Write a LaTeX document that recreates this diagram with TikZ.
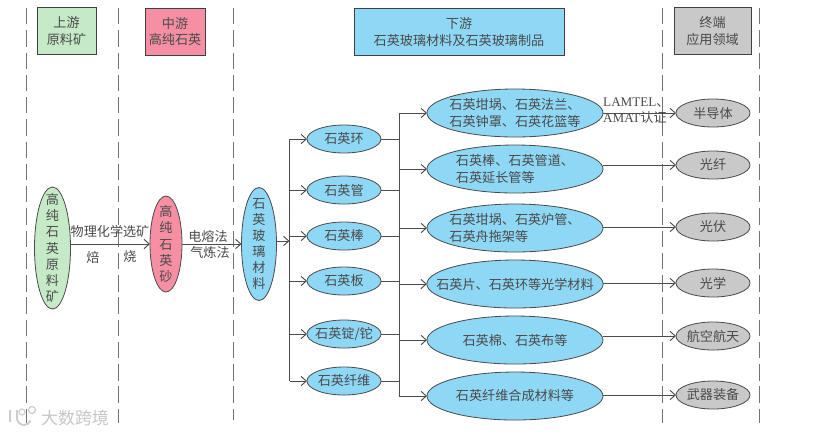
\documentclass[tikz,border=0pt]{standalone}
\usepackage{fontspec}
\setmainfont{Noto Sans CJK SC}
\newfontfamily\latinfont{Liberation Serif}
\usepackage{xcolor}
\usepackage{tikz}
\usetikzlibrary{shapes,arrows.meta,positioning,calc}
\definecolor{upgreen}{HTML}{C6EAC8}
\definecolor{midpink}{HTML}{F78FA4}
\definecolor{downblue}{HTML}{8ED8F6}
\definecolor{endgray}{HTML}{C9C9C9}
\definecolor{inkgray}{HTML}{4A4A4A}

\begin{document}
\begin{tikzpicture}[
    x=0.03cm, y=-0.03cm,
    >={Straight Barb[length=4.5pt,width=8pt]},
    every node/.style={font=\fontsize{11.2}{13.8}\selectfont, text=inkgray},
    head/.style={rectangle, draw=black!75, line width=0.8pt, align=center,
                 minimum height=1.41cm, inner sep=0pt},
    blob/.style={ellipse, draw=black!70, line width=0.7pt, align=center,
                 inner xsep=-14pt, inner ysep=-12pt, outer sep=0pt},
    ring/.style={blob, fill=downblue, minimum width=2.22cm, minimum height=0.84cm},
    ware/.style={blob, fill=downblue, minimum width=5.28cm, minimum height=1.44cm},
    usage/.style={blob, fill=endgray, minimum width=2.22cm, minimum height=0.84cm},
    tall/.style={blob, minimum width=1.08cm},
    fence/.style={dash pattern=on 14pt off 5pt, line width=0.8pt, gray!90!black},
    arrow/.style={->, line width=0.8pt, black!70},
    wire/.style={line width=0.8pt, black!70},
    note/.style={inner sep=0pt, align=left},
  ]
    \useasboundingbox (0,0) rectangle (831,434);

    % column fences
    \draw[fence] (26,8)  -- (26,423);
    \draw[fence] (118,8) -- (118,423);
    \draw[fence] (233,8) -- (233,420);
    \draw[fence] (662,8) -- (662,423);
    \draw[fence] (759,8) -- (759,423);

    \node[head, fill=upgreen, minimum width=1.77cm] (hup)   at (66.5,31)  {上游\\原料矿};
    \node[head, fill=midpink, minimum width=1.8cm]  (hmid)  at (175,31.5) {中游\\高纯石英};
    \node[head, fill=downblue, minimum width=6.3cm] (hdown) at (459,32)   {下游\\石英玻璃材料及石英玻璃制品};
    \node[head, fill=endgray, minimum width=2.31cm] (hend)  at (712.5,31) {终端\\应用领域};

    \node[tall, fill=upgreen, minimum height=3.66cm] (ore)   at (52.5,248) {高\\纯\\石\\英\\原\\料\\矿};
    \node[tall, fill=midpink, minimum width=0.96cm, minimum height=2.88cm] (sand)  at (166,244) {高\\纯\\石\\英\\砂};
    \node[tall, fill=downblue, minimum width=1.05cm, minimum height=3.39cm] (glass) at (259,244) {石\\英\\玻\\璃\\材\\料};

    \node[ring] (hoop) at (344,139) {石英环};
    \node[ring, below=0.69cm of hoop]  (tube)  {石英管};
    \node[ring, below=0.54cm of tube]  (rod)   {石英棒};
    \node[ring, below=0.51cm of rod]   (plate) {石英板};
    \node[ring, below=0.75cm of plate] (ingot) {石英锭/铊};
    \node[ring, below=0.57cm of ingot] (fibre) {石英纤维};

    \node[ware] (crucible) at (515,113) {石英坩埚、石英法兰、\\石英钟罩、石英花篮等};
    \node[ware, below=0.24cm of crucible, align=left] (rodware) {石英棒、石英管道、\\石英延长管等};
    \node[ware, below=0.33cm of rodware, align=left]  (pvware)  {石英坩埚、石英炉管、\\石英舟拖架等};
    \node[ware, below=0.24cm of pvware]  (optic) {石英片、石英环等光学材料};
    \node[ware, below=0.24cm of optic]   (wool)  {石英棉、石英布等};
    \node[ware, below=0.24cm of wool]    (composite) {石英纤维合成材料等};

    \node[usage] (semi) at (713,113) {半导体};
    \node[usage, below=0.72cm of semi]   (ofibre) {光纤};
    \node[usage, below=1.02cm of ofibre] (pv)     {光伏};
    \node[usage, below=0.84cm of pv]     (optics) {光学};
    \node[usage, below=0.75cm of optics] (aero)   {航空航天};
    \node[usage, below=0.93cm of aero]   (arms)   {武器装备};

    \node[note] (lchem) at (110,231) {物理化学选矿};
    \node[note] (lbeil) at (93,257)  {焙};
    \node[note] (lburn) at (130,257) {烧};
    \node[note] (lmelt) at (208,236) {电熔法};
    \node[note] (lgas)  at (210,253) {气炼法};
    \node[note, anchor=west] (lcert) at (603,111) {{\latinfont LAMTEL}、\\{\latinfont AMAT}认证};

    \coordinate (splitl) at (289.5,241);
    \coordinate (splitr) at (399,139);

    \draw[arrow] (ore.east |- sand) -- (sand);
    \draw[arrow] (sand) -- (glass);
    \draw[arrow] (glass.east |- splitl) -- (splitl);

    \draw[wire] (hoop -| splitl) -- (fibre -| splitl);
    \draw[arrow] (hoop -| splitl)  -- (hoop);
    \draw[arrow] (tube -| splitl)  -- (tube);
    \draw[arrow] (rod -| splitl)   -- (rod);
    \draw[arrow] (plate -| splitl) -- (plate);
    \draw[arrow] (ingot -| splitl) -- (ingot);
    \draw[arrow] (fibre -| splitl) -- (fibre);

    \draw[wire] (crucible -| splitr) -- (composite -| splitr);
    \draw[wire] (hoop)  -- (hoop -| splitr);
    \draw[wire] (tube)  -- (tube -| splitr);
    \draw[wire] (rod)   -- (rod -| splitr);
    \draw[wire] (plate) -- (plate -| splitr);
    \draw[wire] (ingot) -- (ingot -| splitr);
    \draw[wire] (fibre) -- (fibre -| splitr);

    \draw[arrow] (crucible -| splitr)  -- (crucible);
    \draw[arrow] (rodware -| splitr)   -- (rodware);
    \draw[arrow] (pvware -| splitr)    -- (pvware);
    \draw[arrow] (optic -| splitr)     -- (optic);
    \draw[arrow] (wool -| splitr)      -- (wool);
    \draw[arrow] (composite -| splitr) -- (composite);

    \draw[arrow] (crucible.east |- semi)    -- (semi);
    \draw[arrow] (rodware.east |- ofibre)   -- (ofibre);
    \draw[arrow] (pvware.east |- pv)        -- (pv);
    \draw[arrow] (optic.east |- optics)     -- (optics);
    \draw[arrow] (wool.east |- aero)        -- (aero);
    \draw[arrow] (composite.east |- arms)   -- (arms);

    % watermark
    \node[note, font=\fontsize{14.5}{16}\selectfont, text=gray!45] (mark) at (75,418) {大数跨境};
    \draw[gray!40, line width=1.6pt] (10,410) -- (10,422);
    \draw[gray!40, line width=1.6pt] (17,410) -- (17,418) arc[start angle=180, end angle=20, radius=7];
    \draw[gray!40, line width=1pt] (22,412) circle[radius=3];
    \draw[gray!40, line width=1pt] (32,410) circle[radius=3.5];
\end{tikzpicture}
\end{document}
